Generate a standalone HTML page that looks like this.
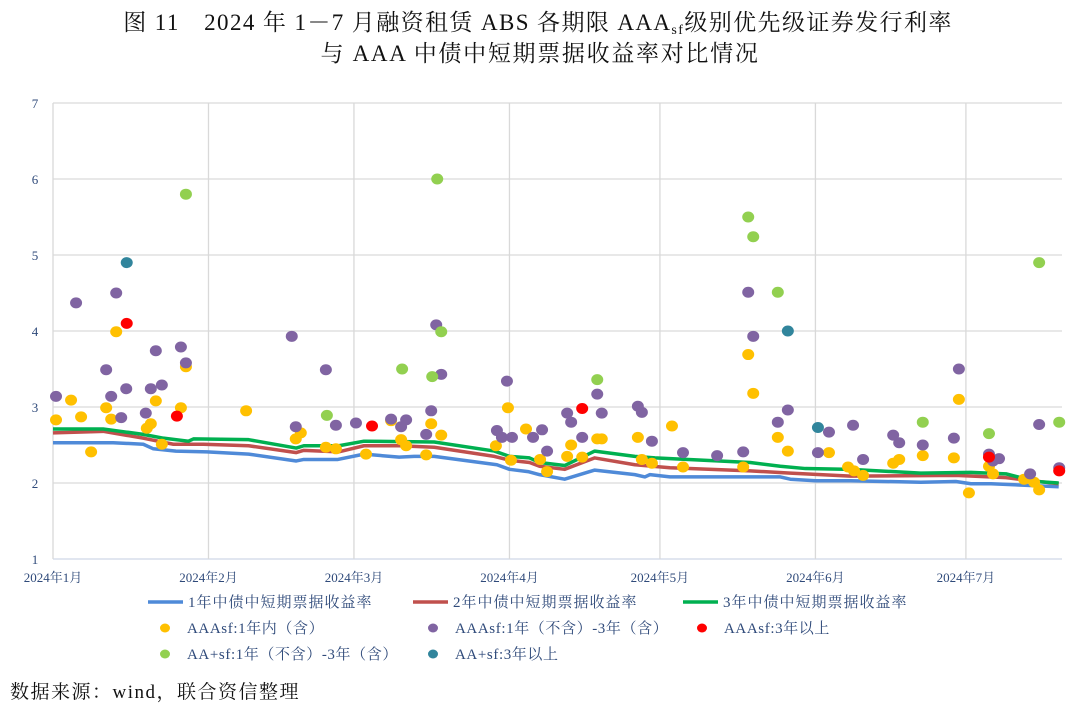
<!DOCTYPE html>
<html><head><meta charset="utf-8">
<style>
body{margin:0;background:#fff;width:1080px;height:708px;overflow:hidden;font-family:"Liberation Serif","Noto Serif CJK SC",serif;}
svg text{font-family:"Liberation Serif","Noto Serif CJK SC",serif;}
</style></head>
<body>
<svg id="chart" width="1080" height="708" xmlns="http://www.w3.org/2000/svg">
<text x="538" y="30" text-anchor="middle" font-size="23" letter-spacing="1.4" fill="#111">图 11　2024 年 1－7 月融资租赁 ABS 各期限 AAA<tspan font-size="14" dy="4">sf</tspan><tspan dy="-4">级别优先级证券发行利率</tspan></text>
<text x="540" y="61" text-anchor="middle" font-size="23" letter-spacing="1.7" fill="#111">与 AAA 中债中短期票据收益率对比情况</text>
<g id="grid"></g>
<g id="lines"></g>
<g id="dots"></g>
<g id="legend"></g>
<text x="10" y="698" font-size="19" letter-spacing="1.5" fill="#111">数据来源：wind，联合资信整理</text>
</svg>
<script>
const yTicks=[1,2,3,4,5,6,7];
const xTickDays=[0,31,60,91,121,152,182];
const xTickLabels=["2024年1月","2024年2月","2024年3月","2024年4月","2024年5月","2024年6月","2024年7月"];
const lineDays1=[0,5,12,18,20,24.5,30.7,39,48.5,50,56.8,62,69,72,76,88.5,91,94.7,97,102,108,116,118,119,123,139,145,147,152,159,173,180,183,187,200.5];
const line1Y=[2.53,2.53,2.53,2.51,2.45,2.42,2.41,2.38,2.29,2.31,2.31,2.38,2.34,2.35,2.35,2.24,2.18,2.15,2.11,2.05,2.17,2.11,2.08,2.11,2.08,2.08,2.08,2.05,2.03,2.03,2.01,2.02,1.99,1.99,1.95];
const lineDays2=[0,10,18,24,30,39,48.5,50,57,62,69,76,88,91,95,97,102,108,116,123,139,147,159,180,190,200.5];
const line2Y=[2.66,2.68,2.59,2.51,2.51,2.49,2.40,2.43,2.41,2.49,2.49,2.47,2.35,2.30,2.27,2.22,2.18,2.33,2.24,2.20,2.16,2.13,2.09,2.10,2.07,1.99];
const lineDays3=[0,10,18,22,27,28,39,48.5,50,57,62,76,88,91,95,97,102,108,116,120,139,145,150,159,173,183,190,196,200.5];
const line3Y=[2.71,2.71,2.64,2.59,2.55,2.58,2.57,2.46,2.49,2.49,2.55,2.54,2.42,2.35,2.33,2.27,2.23,2.42,2.35,2.33,2.27,2.22,2.19,2.18,2.13,2.14,2.12,2.02,2.00];
const yellowDays=[0.6,3.6,5.6,7.6,10.6,11.6,12.6,18.7,19.5,20.5,21.7,25.5,26.5,38.5,48.4,49.4,54.4,56.4,62.4,67.4,69.4,70.4,74.4,75.4,77.4,88.3,90.7,91.3,94.3,97.1,98.5,102.5,103.3,105.5,108.5,109.4,116.6,117.4,119.4,123.4,125.6,137.6,138.6,139.6,144.5,146.5,154.7,158.5,159.7,161.5,167.5,168.7,173.4,179.6,180.6,182.6,186.6,187.4,193.6,195.6,196.6];
const yellowY=[2.83,3.09,2.87,2.41,2.99,2.84,3.99,2.72,2.78,3.08,2.51,2.99,3.53,2.95,2.58,2.66,2.47,2.45,2.38,2.82,2.57,2.49,2.37,2.78,2.63,2.49,2.99,2.30,2.71,2.31,2.15,2.35,2.50,2.34,2.58,2.58,2.60,2.31,2.26,2.75,2.21,2.21,3.69,3.18,2.60,2.42,2.40,2.21,2.16,2.10,2.26,2.31,2.36,2.33,3.10,1.87,2.22,2.12,2.05,2.01,1.91];
const purpleDays=[0.6,4.6,10.6,11.6,12.6,13.6,14.6,18.5,19.5,20.5,21.7,25.5,26.5,47.6,48.4,54.4,56.4,60.4,67.4,69.4,70.4,74.4,75.4,76.4,77.4,88.5,89.5,90.5,91.5,95.7,97.5,98.5,102.5,103.3,105.5,108.5,109.4,116.6,117.4,119.4,125.6,132.4,137.6,138.6,139.6,144.5,146.5,152.5,154.7,159.5,161.5,167.5,168.7,173.4,179.6,180.6,186.6,187.4,188.6,194.8,196.6,200.6];
const purpleY=[3.14,4.37,3.49,3.14,4.50,2.86,3.24,2.92,3.24,3.74,3.29,3.79,3.58,3.93,2.74,3.49,2.76,2.79,2.84,2.74,2.83,2.64,2.95,4.08,3.43,2.69,2.60,3.34,2.60,2.60,2.70,2.42,2.92,2.80,2.60,3.17,2.92,3.01,2.93,2.55,2.40,2.36,2.41,4.51,3.93,2.80,2.96,2.40,2.67,2.76,2.31,2.63,2.53,2.50,2.59,3.50,2.38,2.29,2.32,2.12,2.77,2.20];
const redDays=[14.7,24.7,63.6,105.5,186.6,200.6];
const redY=[4.10,2.88,2.75,2.98,2.34,2.16];
const lgreenDays=[26.5,54.6,69.6,75.6,76.6,77.4,108.5,138.6,139.6,144.5,173.4,186.6,196.6,200.6];
const lgreenY=[5.80,2.89,3.50,3.40,6.00,3.99,3.36,5.50,5.24,4.51,2.80,2.65,4.90,2.80];
const tealDays=[14.7,146.5,152.5];
const tealY=[4.90,4.00,2.73];

const NS="http://www.w3.org/2000/svg";
const X0=53,XPD=5.016,Y1=559,YPU=76,XR=1062;
const sx=d=>X0+d*XPD;
const sy=v=>Y1-(v-1)*YPU;
function mk(tag,parent,attrs){const e=document.createElementNS(NS,tag);for(const k in attrs)e.setAttribute(k,attrs[k]);parent.appendChild(e);return e;}
const grid=document.getElementById('grid');
yTicks.forEach(t=>{
  const l=mk('line',grid,{x1:X0,x2:XR,y1:sy(t),y2:sy(t),stroke:t===1?'#cfd8e6':'#d9d9d9','stroke-width':1.3});
  
  
  const tx=mk('text',grid,{x:35,y:sy(t)+5,'text-anchor':'middle','font-size':13,fill:'#2f4a7a'});
  tx.textContent=t;
  
  
});
xTickDays.forEach((d,i)=>{
  const l=mk('line',grid,{x1:sx(d),x2:sx(d),y1:sy(7),y2:sy(1),stroke:'#d9d9d9','stroke-width':1.3});
  
  
  const tx=mk('text',grid,{x:sx(d),y:582,'text-anchor':'middle','font-size':13,fill:'#2f4a7a'});
  tx.textContent=xTickLabels[i];
  
  
});
const lines=document.getElementById('lines');
function drawLine(days,vals,color,name){
  const p=mk('polyline',lines,{points:days.map((d,i)=>sx(d)+','+sy(vals[i])).join(' '),fill:'none',stroke:color,'stroke-width':3.5,'stroke-linejoin':'round'});
  
  
}
drawLine(lineDays1,line1Y,'#4f8ad8','line-1y-yield');
drawLine(lineDays2,line2Y,'#c0504d','line-2y-yield');
drawLine(lineDays3,line3Y,'#00b050','line-3y-yield');
const dots=document.getElementById('dots');
function drawDots(days,vals,color,name){
  days.forEach((d,i)=>{
    const c=mk('ellipse',dots,{cx:sx(d),cy:sy(vals[i]),rx:6,ry:5.5,fill:color});
    
    
  });
}
drawDots(yellowDays,yellowY,'#ffc000','dot-aaa-1y');
drawDots(purpleDays,purpleY,'#8064a2','dot-aaa-1-3y');
drawDots(redDays,redY,'#ff0000','dot-aaa-3y-plus');
drawDots(lgreenDays,lgreenY,'#92d050','dot-aaplus-1-3y');
drawDots(tealDays,tealY,'#31859c','dot-aaplus-3y-plus');
const lg=document.getElementById('legend');
const lineLeg=[[148,'#4f8ad8','1年中债中短期票据收益率'],[413,'#c0504d','2年中债中短期票据收益率'],[683,'#00b050','3年中债中短期票据收益率']];
lineLeg.forEach(a=>{
  const l=mk('line',lg,{x1:a[0],x2:a[0]+35,y1:602,y2:602,stroke:a[1],'stroke-width':3.5});
  
  
  const t=mk('text',lg,{x:a[0]+40,y:607,'font-size':15,'letter-spacing':1,fill:'#2f4a7a'});
  t.textContent=a[2];
  
  
});
const dotLeg=[[165,628,'#ffc000','AAAsf:1年内（含）'],[433,628,'#8064a2','AAAsf:1年（不含）-3年（含）'],[702,628,'#ff0000','AAAsf:3年以上'],[165,654,'#92d050','AA+sf:1年（不含）-3年（含）'],[433,654,'#31859c','AA+sf:3年以上']];
dotLeg.forEach(a=>{
  const c=mk('ellipse',lg,{cx:a[0],cy:a[1],rx:5,ry:4.5,fill:a[2]});
  
  
  const t=mk('text',lg,{x:a[0]+22,y:a[1]+5,'font-size':15,'letter-spacing':0.6,fill:'#2f4a7a'});
  t.textContent=a[3];
  
  
});
</script>
</body></html>
